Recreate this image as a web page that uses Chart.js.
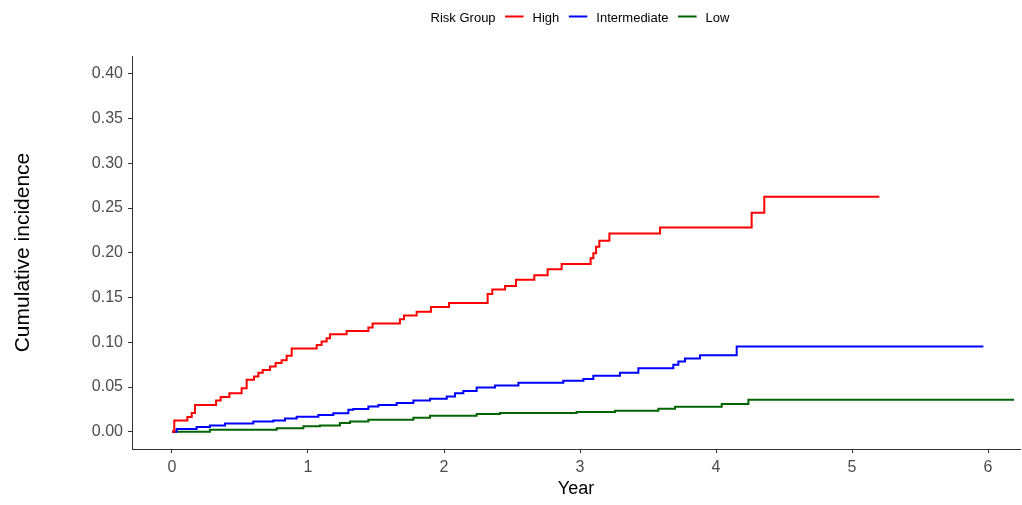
<!DOCTYPE html>
<html>
<head>
<meta charset="utf-8">
<script src="https://cdn.jsdelivr.net/npm/chart.js@4"></script>
<style>
    body { margin: 0; background: #fff; }
    #wrap { width: 1022px; height: 505px; position: relative; }
</style>
</head>
<body>
<div id="wrap"><canvas id="cifChart"></canvas></div>
<script>
    // values (step times in years, cumulative incidence)
    const groupNames = ['High', 'Intermediate', 'Low'];
    const groupColors = ['#ff0000', '#0000ff', '#006400'];

    const highTimes = [0, 0.017, 0.113, 0.145, 0.169, 0.324, 0.358, 0.422, 0.512, 0.549, 0.603, 0.635, 0.667, 0.721, 0.762, 0.806, 0.843, 0.880, 1.064, 1.100, 1.137, 1.162, 1.284, 1.444, 1.475, 1.676, 1.706, 1.799, 1.904, 2.037, 2.321, 2.355, 2.449, 2.529, 2.664, 2.762, 2.865, 3.078, 3.098, 3.118, 3.142, 3.216, 3.588, 4.262, 4.355, 5.201];
    const highValues = [0, 0.0126, 0.0164, 0.021, 0.030, 0.035, 0.0387, 0.043, 0.0487, 0.058, 0.0618, 0.066, 0.069, 0.073, 0.0767, 0.080, 0.085, 0.093, 0.097, 0.1008, 0.1045, 0.109, 0.1127, 0.1164, 0.121, 0.1257, 0.130, 0.134, 0.1395, 0.144, 0.154, 0.159, 0.163, 0.170, 0.175, 0.1815, 0.1875, 0.194, 0.1994, 0.2068, 0.2135, 0.2217, 0.2284, 0.2448, 0.2626, 0.2626];

    const interTimes = [0, 0.034, 0.181, 0.279, 0.390, 0.598, 0.745, 0.831, 0.917, 1.076, 1.186, 1.297, 1.333, 1.444, 1.517, 1.652, 1.775, 1.897, 2.020, 2.081, 2.142, 2.240, 2.375, 2.547, 2.877, 3.025, 3.098, 3.294, 3.429, 3.686, 3.723, 3.772, 3.882, 4.152, 5.966];
    const interValues = [0, 0.003, 0.0052, 0.007, 0.0093, 0.0115, 0.0126, 0.0149, 0.0167, 0.0186, 0.0208, 0.0246, 0.0253, 0.0283, 0.030, 0.032, 0.035, 0.0368, 0.0394, 0.043, 0.0454, 0.0494, 0.0517, 0.0547, 0.0569, 0.059, 0.0625, 0.066, 0.071, 0.0748, 0.0785, 0.082, 0.0856, 0.0952, 0.0952];

    const lowTimes = [0, 0.279, 0.770, 0.966, 1.088, 1.235, 1.309, 1.444, 1.775, 1.897, 2.240, 2.412, 2.975, 3.257, 3.576, 3.699, 4.042, 4.238, 6.191];
    const lowValues = [0, 0.0022, 0.004, 0.006, 0.007, 0.0097, 0.0115, 0.0134, 0.0156, 0.0179, 0.0197, 0.021, 0.022, 0.0234, 0.0257, 0.0279, 0.0309, 0.0357, 0.0357];

    const yTicks = [0, 0.05, 0.10, 0.15, 0.20, 0.25, 0.30, 0.35, 0.40];
    const xTicks = [0, 1, 2, 3, 4, 5, 6];
    const legendTitle = 'Risk Group';

    function toPoints(times, values) {
        return times.map((t, i) => ({ x: t, y: values[i] }));
    }

    const seriesPoints = [
        toPoints(highTimes, highValues),
        toPoints(interTimes, interValues),
        toPoints(lowTimes, lowValues)
    ];

    // ggplot-like legend: title inline, centred over the panel
    const inlineLegend = {
        id: 'inlineLegend',
        afterDraw(chart) {
            const ctx = chart.ctx;
            const area = chart.chartArea;
            ctx.save();
            ctx.font = '13px "Liberation Sans", Arial, sans-serif';
            ctx.textBaseline = 'middle';
            ctx.fillStyle = '#000';
            const lineLen = 18.5, gapAfterLine = 9, gapAfterText = 9.5;
            let total = ctx.measureText(legendTitle).width;
            groupNames.forEach(n => {
                total += gapAfterText + lineLen + gapAfterLine + ctx.measureText(n).width;
            });
            let x = (area.left + area.right) / 2 - total / 2 + 4;
            const y = 18;
            ctx.fillText(legendTitle, x, y);
            x += ctx.measureText(legendTitle).width;
            groupNames.forEach((n, i) => {
                x += gapAfterText;
                ctx.strokeStyle = groupColors[i];
                ctx.lineWidth = 2;
                ctx.beginPath();
                ctx.moveTo(x, 16.5);
                ctx.lineTo(x + lineLen, 16.5);
                ctx.stroke();
                x += lineLen + gapAfterLine;
                ctx.fillText(n, x, y);
                x += ctx.measureText(n).width;
            });
            ctx.restore();
        }
    };

    const ctx = document.getElementById('cifChart').getContext('2d');
    window.cifChart = new Chart(ctx, {
        type: 'line',
        data: {
            datasets: groupNames.map((name, i) => ({
                label: name,
                data: seriesPoints[i],
                borderColor: groupColors[i],
                backgroundColor: groupColors[i],
                borderWidth: 2,
                stepped: true,
                pointRadius: 0,
                fill: false
            }))
        },
        options: {
            responsive: true,
            maintainAspectRatio: false,
            animation: false,
            layout: { padding: { top: 56, right: 2, left: 0, bottom: 0 } },
            plugins: {
                legend: { display: false },
                tooltip: { enabled: false }
            },
            scales: {
                x: {
                    type: 'linear',
                    min: -0.294,
                    max: 6.235,
                    afterBuildTicks: (scale) => { scale.ticks = xTicks.map(v => ({ value: v })); },
                    afterFit: (scale) => { scale.height = 56; },
                    ticks: {
                        color: '#4d4d4d',
                        padding: 5,
                        maxRotation: 0,
                        font: { family: '"Liberation Sans", Arial, sans-serif', size: 16 },
                        callback: (v) => String(v)
                    },
                    grid: { drawOnChartArea: false, drawTicks: true, tickLength: 4, color: '#333' },
                    border: { display: true, color: '#333', width: 1 },
                    title: {
                        display: true,
                        text: 'Year',
                        color: '#000',
                        padding: { top: 0, bottom: 5 },
                        font: { family: '"Liberation Sans", Arial, sans-serif', size: 18 }
                    }
                },
                y: {
                    type: 'linear',
                    min: -0.0193,
                    max: 0.42,
                    afterBuildTicks: (scale) => { scale.ticks = yTicks.map(v => ({ value: v })); },
                    afterFit: (scale) => { scale.width = 132; },
                    ticks: {
                        color: '#4d4d4d',
                        padding: 5,
                        font: { family: '"Liberation Sans", Arial, sans-serif', size: 16 },
                        callback: (v) => Number(v).toFixed(2)
                    },
                    grid: { drawOnChartArea: false, drawTicks: true, tickLength: 4, color: '#333' },
                    border: { display: true, color: '#333', width: 1 },
                    title: {
                        display: true,
                        text: 'Cumulative incidence',
                        color: '#000',
                        padding: { top: 11, bottom: 0 },
                        font: { family: '"Liberation Sans", Arial, sans-serif', size: 21 }
                    }
                }
            }
        },
        plugins: [inlineLegend]
    });
</script>
</body>
</html>
